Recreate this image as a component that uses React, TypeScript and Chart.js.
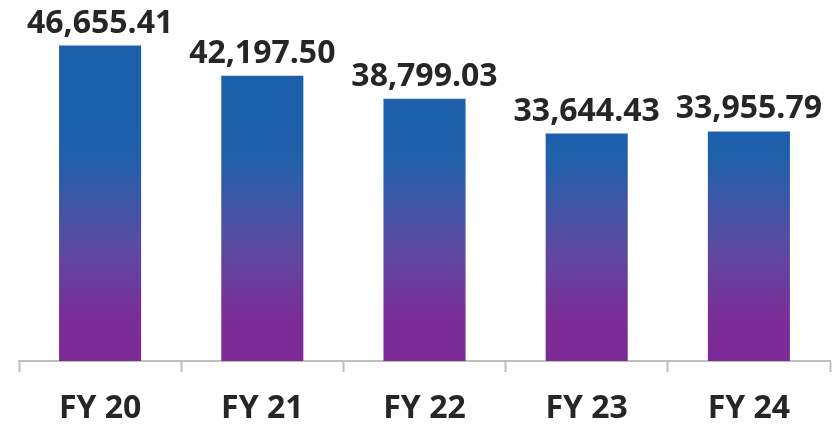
import React, { useEffect, useRef } from "react";
import { Chart, registerables } from "chart.js";

Chart.register(...registerables);

const categories = ["FY 20", "FY 21", "FY 22", "FY 23", "FY 24"];
const values = [46655.41, 42197.5, 38799.03, 33644.43, 33955.79];

const fmt = (v: number) =>
  v.toLocaleString("en-US", { minimumFractionDigits: 2, maximumFractionDigits: 2 });

const gradientPlugin = {
  id: "barGradient",
  beforeDatasetDraw(chart: any, args: any) {
    const ctx = chart.ctx;
    args.meta.data.forEach((el: any) => {
      const g = ctx.createLinearGradient(0, el.y, 0, el.base);
      g.addColorStop(0, "#1c5fab");
      g.addColorStop(0.12, "#2160aa");
      g.addColorStop(0.5, "#5a4ba2");
      g.addColorStop(0.8, "#7a2e98");
      g.addColorStop(1, "#7d2a96");
      el.options.backgroundColor = g;
    });
  },
};

const labelPlugin = {
  id: "valueLabels",
  afterDatasetsDraw(chart: any) {
    const ctx = chart.ctx;
    const meta = chart.getDatasetMeta(0);
    ctx.save();
    ctx.font = "bold 32px 'Open Sans'";
    ctx.fillStyle = "#262626";
    ctx.textAlign = "center";
    ctx.textBaseline = "alphabetic";
    meta.data.forEach((el: any, i: number) => {
      ctx.fillText(fmt(values[i]), el.x, el.y - 13);
    });
    ctx.restore();
  },
};

export default function App() {
  const ref = useRef<HTMLCanvasElement>(null);
  useEffect(() => {
    if (!ref.current) return;
    const chart = new Chart(ref.current, {
      type: "bar",
      data: {
        labels: categories,
        datasets: [
          {
            data: values,
            backgroundColor: "#4b51a6",
            categoryPercentage: 1,
            barPercentage: 0.506,
          },
        ],
      },
      options: {
        animation: false,
        responsive: true,
        maintainAspectRatio: false,
        layout: { padding: { top: 23, left: 19, right: 6, bottom: 0 } },
        plugins: { legend: { display: false }, tooltip: { enabled: false } },
        scales: {
          y: { display: false, min: 0, max: 50000 },
          x: {
            afterFit: (scale: any) => {
              scale.height = 64;
            },
            border: { display: true, color: "#bfbfbf", width: 2 },
            grid: {
              display: true,
              drawOnChartArea: false,
              drawTicks: true,
              tickLength: 11,
              tickWidth: 2,
              color: "#bfbfbf",
              offset: true,
            },
            ticks: {
              color: "#262626",
              padding: 18,
              font: { family: "'Open Sans'", size: 32, weight: "bold" },
            },
          },
        },
      },
      plugins: [gradientPlugin, labelPlugin],
    });
    return () => chart.destroy();
  }, []);
  return (
    <div style={{ position: "absolute", left: 0, top: 0, width: 836, height: 425 }}>
      <canvas ref={ref} />
    </div>
  );
}
